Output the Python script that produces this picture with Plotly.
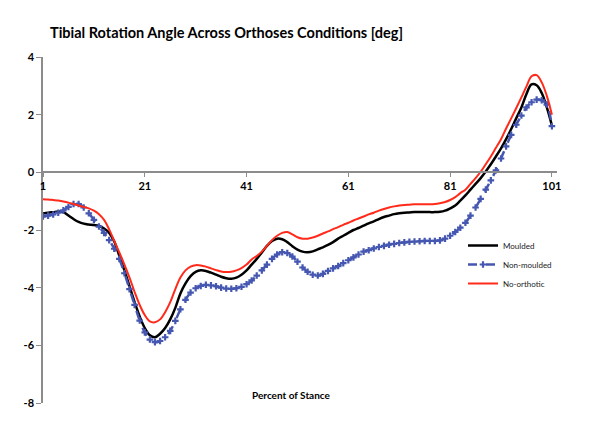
import plotly.graph_objects as go

stance = list(range(1, 102))

moulded = [
    -1.43, -1.40, -1.38, -1.36, -1.38, -1.50, -1.62, -1.72, -1.78, -1.81,
    -1.83, -1.86, -1.95, -2.10, -2.40, -2.90, -3.40, -3.95, -4.50, -5.00,
    -5.40, -5.65, -5.72, -5.60, -5.40, -5.10, -4.70, -4.20, -3.85, -3.60,
    -3.45, -3.40, -3.42, -3.48, -3.55, -3.62, -3.67, -3.69, -3.65, -3.55,
    -3.40, -3.20, -3.00, -2.78, -2.55, -2.38, -2.30, -2.32, -2.42, -2.56,
    -2.68, -2.75, -2.77, -2.74, -2.67, -2.60, -2.52, -2.42, -2.30, -2.20,
    -2.10, -2.00, -1.93, -1.85, -1.77, -1.70, -1.62, -1.55, -1.50, -1.45,
    -1.42, -1.40, -1.39, -1.38, -1.38, -1.38, -1.38, -1.38, -1.37, -1.33,
    -1.25, -1.15, -0.98, -0.80, -0.60, -0.40, -0.20, 0.03, 0.28, 0.55,
    0.83, 1.15, 1.50, 1.88, 2.25, 2.72, 3.05, 3.02, 2.75, 2.25,
    1.62,
]

non_moulded = [
    -1.53, -1.50, -1.46, -1.40, -1.32, -1.20, -1.10, -1.10, -1.22, -1.42,
    -1.65, -1.88, -2.10, -2.35, -2.65, -3.00, -3.50, -4.05, -4.60, -5.14,
    -5.55, -5.80, -5.89, -5.85, -5.72, -5.50, -5.15, -4.75, -4.42, -4.17,
    -4.02, -3.94, -3.90, -3.92, -3.95, -4.00, -4.03, -4.04, -4.02, -3.97,
    -3.88, -3.75, -3.58, -3.40, -3.20, -3.00, -2.85, -2.77, -2.80, -2.92,
    -3.10, -3.30, -3.45, -3.55, -3.58, -3.52, -3.42, -3.33, -3.25, -3.15,
    -3.05, -2.95, -2.85, -2.75, -2.70, -2.64, -2.59, -2.55, -2.51, -2.48,
    -2.45, -2.43, -2.41, -2.40, -2.39, -2.38, -2.38, -2.38, -2.36, -2.30,
    -2.20, -2.07, -1.92, -1.75, -1.50, -1.22, -0.92, -0.60, -0.28, 0.07,
    0.48, 0.90, 1.30, 1.65, 1.97, 2.25, 2.43, 2.52, 2.50, 2.35,
    1.60,
]

no_orthotic = [
    -0.93, -0.94, -0.96, -0.98, -1.01, -1.05, -1.10, -1.15, -1.20, -1.25,
    -1.33, -1.45, -1.65, -1.98, -2.38, -2.78, -3.20, -3.65, -4.15, -4.60,
    -4.95, -5.17, -5.20, -5.10, -4.85, -4.50, -4.05, -3.65, -3.40, -3.27,
    -3.22, -3.23, -3.27, -3.33, -3.39, -3.44, -3.46, -3.45, -3.40, -3.32,
    -3.20, -3.02, -2.90, -2.75, -2.55, -2.35, -2.20, -2.10, -2.07, -2.15,
    -2.25, -2.30, -2.30, -2.26, -2.20, -2.12, -2.05, -1.97, -1.90, -1.82,
    -1.75, -1.67, -1.60, -1.53, -1.46, -1.40, -1.33, -1.27, -1.22, -1.18,
    -1.15, -1.13, -1.12, -1.11, -1.11, -1.11, -1.11, -1.10, -1.07, -1.03,
    -0.96, -0.86, -0.72, -0.60, -0.40, -0.20, 0.02, 0.28, 0.55, 0.85,
    1.15, 1.52, 1.87, 2.23, 2.60, 2.98, 3.33, 3.37, 3.12, 2.65,
    2.00,
]

x_ticks = [1, 21, 41, 61, 81, 101]
y_ticks = [4, 2, 0, -2, -4, -6, -8]

FONT = "Lato"

fig = go.Figure()
fig.add_trace(go.Scatter(
    x=stance, y=moulded, name="Moulded", mode="lines",
    line=dict(color="#000000", width=2.5, shape="spline"),
))
fig.add_trace(go.Scatter(
    x=stance, y=non_moulded, name="Non-moulded", mode="lines+markers",
    line=dict(color="#4557B0", width=2.5, dash="dash", shape="spline"),
    marker=dict(symbol="cross", size=5.5, color="#4557B0"),
))
fig.add_trace(go.Scatter(
    x=stance, y=no_orthotic, name="No-orthotic", mode="lines",
    line=dict(color="#FF2A1A", width=2, shape="spline"),
))

fig.update_layout(
    width=600, height=435,
    margin=dict(l=43, r=43, t=57, b=32),
    paper_bgcolor="white", plot_bgcolor="white",
    font=dict(family=FONT, color="#000000"),
    title=dict(
        text="<b>Tibial Rotation Angle Across Orthoses Conditions [deg]</b>",
        x=50 / 600, xref="container", xanchor="left",
        y=1 - 33 / 435, yref="container", yanchor="middle",
        font=dict(size=14.5, family=FONT, color="#000000"),
    ),
    xaxis=dict(
        range=[1, 102], tickvals=x_ticks,
        ticktext=[f"<b>{t}</b>" for t in x_ticks],
        anchor="free", position=8 / 12,
        showline=True, linecolor="#8C8C8C", linewidth=1.5,
        ticks="outside", ticklen=4, tickcolor="#8C8C8C",
        showgrid=False, zeroline=False,
        tickfont=dict(size=11, family=FONT, color="#000000"),
    ),
    yaxis=dict(
        range=[-8, 4], tickvals=y_ticks,
        ticktext=[f"<b>{t}</b>" for t in y_ticks],
        showline=True, linecolor="#8C8C8C", linewidth=1.5,
        ticks="outside", ticklen=5, tickcolor="#8C8C8C",
        showgrid=False, zeroline=False,
        tickfont=dict(size=11, family=FONT, color="#000000"),
    ),
    legend=dict(
        x=(463 - 43) / 514, xanchor="left",
        y=(403 - 231) / 346, yanchor="top",
        font=dict(size=8, family=FONT, color="#222222"),
        bgcolor="rgba(0,0,0,0)", tracegroupgap=0,
        itemwidth=30,
    ),
    showlegend=True,
)

fig.add_annotation(
    text="<b>Percent of Stance</b>", x=290 / 600, xref="paper",
    y=1 - (395 - 57) / 346, yref="paper", showarrow=False,
    xanchor="center", yanchor="middle",
    font=dict(size=10, family=FONT, color="#000000"),
)

fig.write_html("out.html", config={"displayModeBar": False},
               post_script="document.body.style.margin='0';")
